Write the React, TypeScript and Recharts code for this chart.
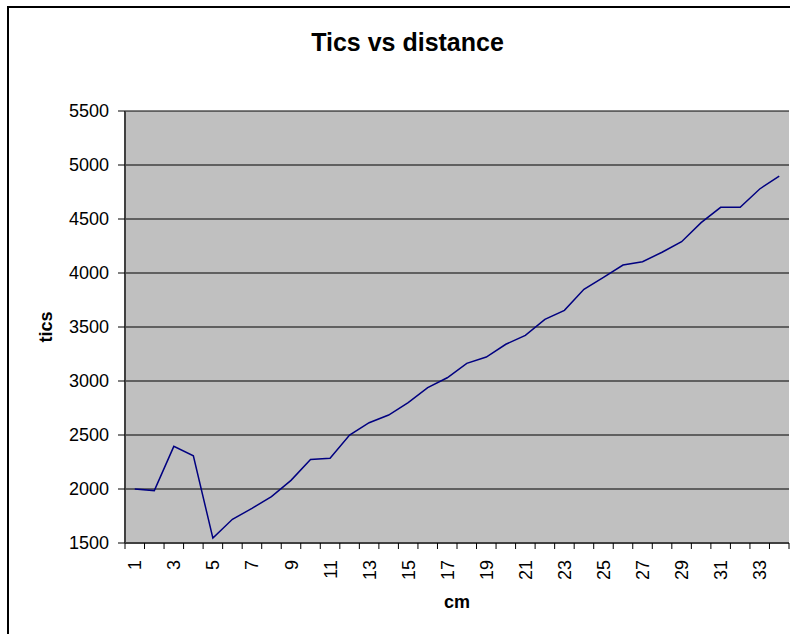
import { LineChart, Line, XAxis, YAxis, CartesianGrid } from "recharts";

const cmLabels = [
  1, 2, 3, 4, 5, 6, 7, 8, 9, 10, 11, 12, 13, 14, 15, 16, 17,
  18, 19, 20, 21, 22, 23, 24, 25, 26, 27, 28, 29, 30, 31, 32, 33, 34,
];

const ticsValues = [
  2000, 1985, 2395, 2307, 1545, 1720, 1820, 1930, 2080, 2273, 2285, 2500,
  2614, 2685, 2800, 2938, 3030, 3163, 3222, 3340, 3423, 3571, 3654, 3849,
  3959, 4074, 4105, 4192, 4290, 4466, 4608, 4608, 4778, 4898,
];

const yTicks = [1500, 2000, 2500, 3000, 3500, 4000, 4500, 5000, 5500];

const data = cmLabels.map((cm, i) => ({ cm, tics: ticsValues[i] }));

const FONT = '"Liberation Sans", Arial, sans-serif';
const W = 790;
const H = 634;
const M = { top: 111, right: 1, bottom: 31, left: 65 };
const Y_AXIS_W = 60;
const BAND = (W - M.right - M.left - Y_AXIS_W) / cmLabels.length;

// tick marks sit on band edges, labels on every other band centre
function CmTick(props: any) {
  const { x, y, payload, index } = props;
  const half = BAND / 2;
  const showLabel = index % 2 === 0;
  const last = index === cmLabels.length - 1;
  return (
    <g>
      <line x1={x - half} x2={x - half} y1={y} y2={y + 6} stroke="#000" />
      {last && <line x1={x + half} x2={x + half} y1={y} y2={y + 6} stroke="#000" />}
      {showLabel && (
        <text
          x={x + 6.5}
          y={y + 17}
          transform={`rotate(-90 ${x + 6.5} ${y + 17})`}
          textAnchor="end"
          fontSize={18}
          fontFamily={FONT}
          fill="#000"
        >
          {payload.value}
        </text>
      )}
    </g>
  );
}

function YTitle({ viewBox }: any) {
  const cx = viewBox.x - 19;
  const cy = viewBox.y + viewBox.height / 2;
  return (
    <text
      x={cx}
      y={cy}
      transform={`rotate(-90 ${cx} ${cy})`}
      textAnchor="middle"
      dominantBaseline="central"
      fontSize={18}
      fontWeight="bold"
      fontFamily={FONT}
      fill="#000"
    >
      tics
    </text>
  );
}

function XTitle({ viewBox }: any) {
  return (
    <text
      x={viewBox.x + viewBox.width / 2}
      y={viewBox.y + 65}
      textAnchor="middle"
      fontSize={18}
      fontWeight="bold"
      fontFamily={FONT}
      fill="#000"
    >
      cm
    </text>
  );
}

export default function App() {
  return (
    <div
      style={{
        position: "absolute",
        left: 0,
        top: 0,
        width: W,
        height: H,
        overflow: "hidden",
        background: "#fff",
      }}
    >
      <div
        style={{
          position: "absolute",
          left: 7,
          top: 6,
          width: 900,
          height: 700,
          border: "2px solid #000",
        }}
      />
      <div
        style={{
          position: "absolute",
          left: 0,
          top: 30,
          width: 815,
          textAlign: "center",
          fontFamily: FONT,
          fontWeight: "bold",
          fontSize: 25,
          lineHeight: "25px",
        }}
      >
        Tics vs distance
      </div>
      <div style={{ position: "absolute", left: 0, top: 0 }}>
        <LineChart width={W} height={H} data={data} margin={M}>
          <CartesianGrid
            vertical={false}
            stroke="#000"
            fill="#C0C0C0"
            fillOpacity={1}
          />
          <XAxis
            dataKey="cm"
            scale="band"
            interval={0}
            tickLine={false}
            tickSize={0}
            tickMargin={0}
            height={60}
            axisLine={{ stroke: "#404040", strokeWidth: 2 }}
            tick={<CmTick />}
            label={<XTitle />}
          />
          <YAxis
            domain={[1500, 5500]}
            ticks={yTicks}
            width={Y_AXIS_W}
            tickSize={7}
            tickMargin={9}
            tickLine={{ stroke: "#000" }}
            axisLine={{ stroke: "#404040", strokeWidth: 2 }}
            tick={{ fontSize: 18, fontFamily: FONT, fill: "#000" }}
            label={<YTitle />}
          />
          <YAxis
            yAxisId="frame"
            orientation="right"
            width={0}
            domain={[1500, 5500]}
            tick={false}
            tickLine={false}
            axisLine={{ stroke: "#808080" }}
          />
          <Line
            type="linear"
            dataKey="tics"
            stroke="#000080"
            strokeWidth={1.5}
            dot={false}
            isAnimationActive={false}
          />
        </LineChart>
      </div>
    </div>
  );
}
